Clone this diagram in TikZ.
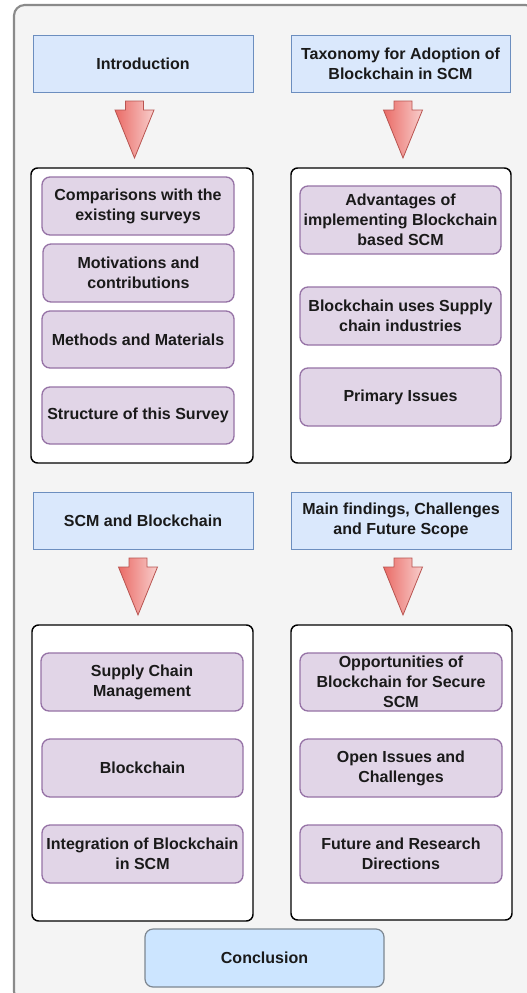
\documentclass[tikz,border=0pt]{standalone}
\usepackage{fontspec}
\setmainfont{Liberation Sans}
\usepackage{tikz}
\usetikzlibrary{fit,calc}

\definecolor{framefill}{HTML}{F4F4F4}
\definecolor{frameline}{HTML}{8A8A8A}
\definecolor{headfill}{HTML}{DAE8FC}
\definecolor{headline}{HTML}{6C8EBF}
\definecolor{itemfill}{HTML}{E1D5E7}
\definecolor{itemline}{HTML}{9673A6}
\definecolor{endfill}{HTML}{CCE5FF}
\definecolor{endline}{HTML}{7D8791}
\definecolor{arrowdark}{HTML}{EA6B66}
\definecolor{arrowlight}{HTML}{F8CECC}
\definecolor{arrowline}{HTML}{B85450}
\definecolor{txt}{HTML}{1A1A1A}

\tikzset{
  every node/.style={font=\bfseries\fontsize{12pt}{15pt}\selectfont, text=txt, align=center, inner sep=0pt},
  headbox/.style={draw=headline, fill=headfill, line width=0.75pt},
  groupbox/.style={draw=black, fill=white, line width=1.1pt, rounded corners=5pt},
  itembox/.style={draw=itemline, fill=itemfill, line width=1pt, rounded corners=6pt},
  endbox/.style={draw=endline, fill=endfill, line width=0.9pt, rounded corners=6pt},
  downarrow/.style={left color=arrowdark, right color=arrowlight, draw=arrowline, line width=0.6pt}
}

\begin{document}
\begin{tikzpicture}[x=0.75pt, y=-0.75pt]
  \useasboundingbox (0,0) rectangle (527,993);
  \clip (0,0) rectangle (527,993);

  % outer frame (runs past the right and bottom edge)
  \draw[fill=framefill, draw=frameline, line width=1.6pt, rounded corners=8pt] (14,5) rectangle (536,1002);

  % section heads
  \node[headbox, fit={(33,35) (253,92)}, label={center:Introduction}] (intro) {};
  \node[headbox, fit={(291,35) (510,92)}, label={center:Taxonomy for Adoption of\\Blockchain in SCM}] (taxonomy) {};
  \node[headbox, fit={(33,492) (253,549)}, label={center:SCM and Blockchain}] (scmbc) {};
  \node[headbox, fit={(291,492) (511,549)}, label={center:{Main findings, Challenges\\and Future Scope}}] (findings) {};

  % block arrows under the heads
  \foreach \cx/\ty in {134.5/101, 403/101, 138/558, 403/558} {
    \shade[downarrow] (\cx-9,\ty) -- (\cx+9,\ty) -- (\cx+9,\ty+9) -- (\cx+19.5,\ty+9)
      -- (\cx,\ty+57) -- (\cx-19.5,\ty+9) -- (\cx-9,\ty+9) -- cycle;
  }

  % group containers
  \node[groupbox, fit={(31,168) (253,463)}] (introgrp) {};
  \node[groupbox, fit={(291,168) (511,463)}] (taxgrp) {};
  \node[groupbox, fit={(32,625) (253,921)}] (scmgrp) {};
  \node[groupbox, fit={(291,625) (512,920)}] (findgrp) {};

  % Introduction items
  \node[itembox, fit={(42,177) (234,235)}, label={center:Comparisons with the\\existing surveys}] (compare) {};
  \node[itembox, fit={(43,244) (234,302)}, label={center:Motivations and\\contributions}] (motiv) {};
  \node[itembox, fit={(42,311) (234,368)}, label={center:Methods and Materials}] (methods) {};
  \node[itembox, fit={(42,387) (234,444)}, label={center:Structure of this Survey}] (structure) {};

  % Taxonomy items
  \node[itembox, fit={(300,186) (501,254)}, label={center:Advantages of\\implementing Blockchain\\based SCM}] (advant) {};
  \node[itembox, fit={(300,287) (501,345)}, label={center:Blockchain uses Supply\\chain industries}] (uses) {};
  \node[itembox, fit={(300,368) (501,426)}, label={center:Primary Issues}] (issues) {};

  % SCM and Blockchain items
  \node[itembox, fit={(41,653) (243,711)}, label={center:Supply Chain\\Management}] (scm) {};
  \node[itembox, fit={(42,739) (243,797)}, label={center:Blockchain}] (bc) {};
  \node[itembox, fit={(42,825) (243,883)}, label={center:Integration of Blockchain\\in SCM}] (integr) {};

  % Findings items
  \node[itembox, fit={(300,653) (502,711)}, label={center:Opportunities of\\Blockchain for Secure\\SCM}] (opport) {};
  \node[itembox, fit={(300,739) (502,797)}, label={center:Open Issues and\\Challenges}] (openiss) {};
  \node[itembox, fit={(300,825) (502,883)}, label={center:Future and Research\\Directions}] (future) {};

  % last section
  \node[endbox, fit={(145,929) (384,987)}, label={center:Conclusion}] (concl) {};
\end{tikzpicture}
\end{document}
